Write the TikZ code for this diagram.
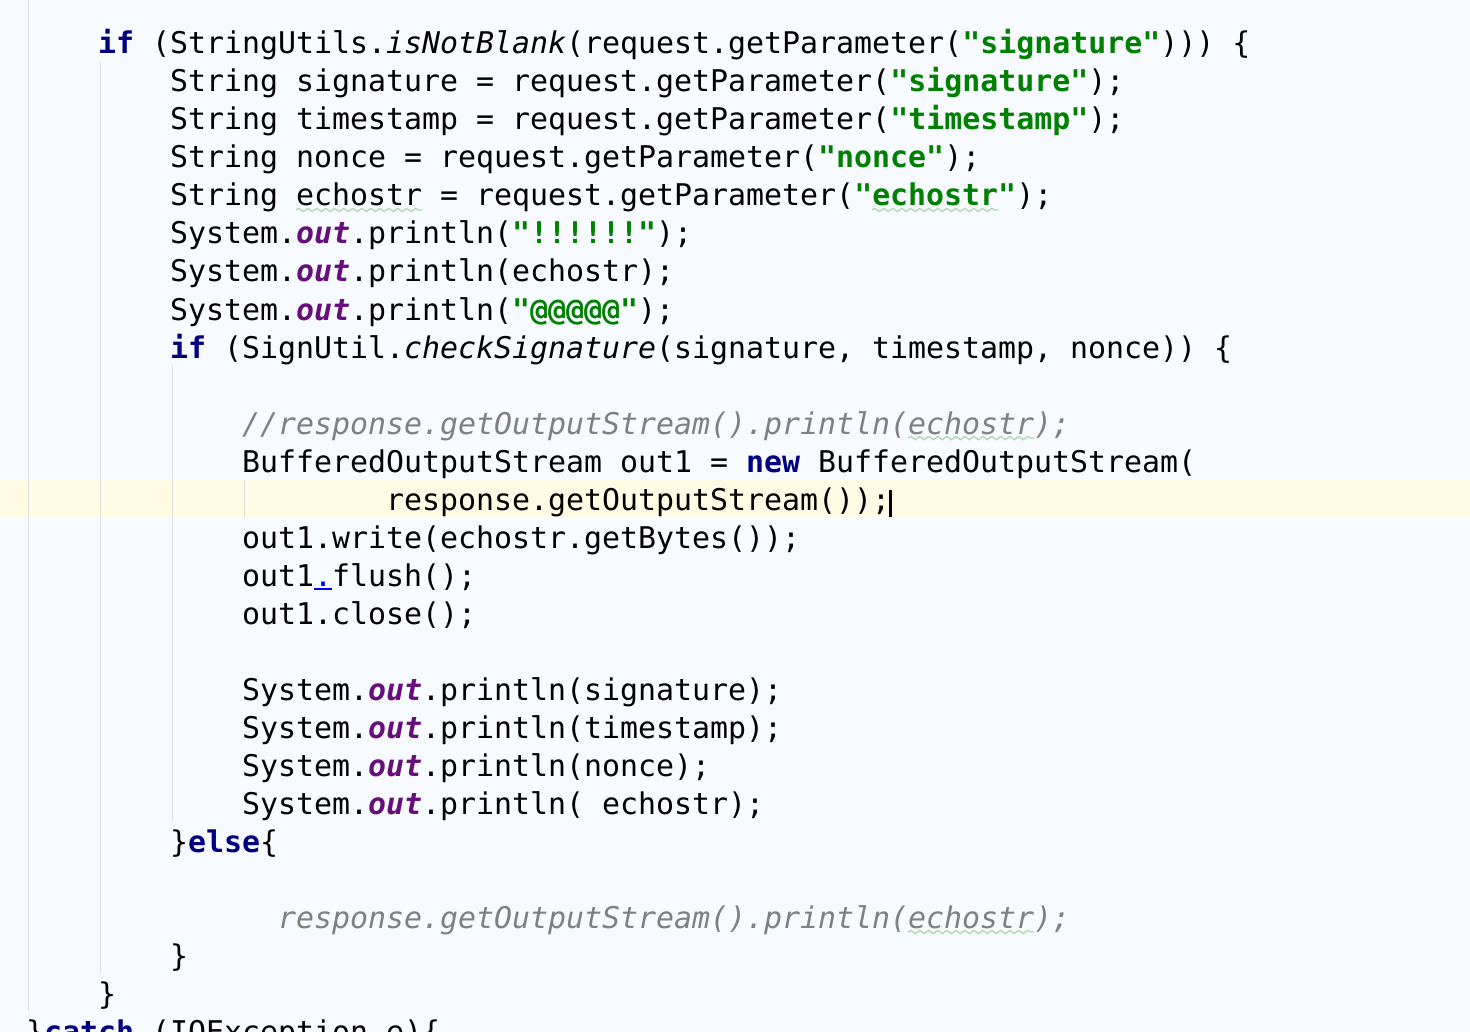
\documentclass[tikz,border=0pt]{standalone}
\usepackage{fontspec}
\setmonofont{DejaVu Sans Mono}
\usetikzlibrary{decorations.pathmorphing}
\definecolor{bgcol}{HTML}{F7FAFF}
\definecolor{curline}{HTML}{FFFAE3}
\definecolor{guide}{HTML}{E2E2E2}
\definecolor{kwcol}{HTML}{000080}
\definecolor{strcol}{HTML}{008000}
\definecolor{fldcol}{HTML}{660E7A}
\definecolor{cmtcol}{HTML}{808080}
\definecolor{wavecol}{HTML}{B2D6AE}
\newcommand{\jkw}[1]{\textcolor{kwcol}{\bfseries #1}}
\newcommand{\jstr}[1]{\textcolor{strcol}{\bfseries #1}}
\newcommand{\jout}{\textcolor{fldcol}{\bfseries\itshape out}}
\newcommand{\jit}[1]{{\itshape #1}}
\tikzset{
  code/.style={anchor=base west, inner sep=0pt, font=\ttfamily\fontsize{29.9}{38}\selectfont},
  cmt/.style={code, cmtcol, font=\ttfamily\itshape\fontsize{29.9}{38}\selectfont},
  squiggle/.style={wavecol, line width=1.3pt, decorate, decoration={snake, amplitude=1.6pt, segment length=9pt}},
  indent/.style={guide, line width=1pt}
}

\begin{document}
\begin{tikzpicture}[x=1pt,y=-1pt]
    \clip (0,0) rectangle (1470,1032);
    \fill[bgcol] (0,0) rectangle (1470,1032);
    \fill[curline] (0,480) rectangle (1470,518);

    \draw[indent] (28.5,0) -- (28.5,1011);
    \draw[indent] (100.5,62) -- (100.5,974);
    \draw[indent] (172.5,366) -- (172.5,822);
    \draw[indent] (244.5,480) -- (244.5,518);

%    lines of the listing, 18pt a column, 38pt a row
\node[code] (l0) at (98,54) {\jkw{if} (StringUtils.\jit{isNotBlank}(request.getParameter(\jstr{"signature"}))) \{};
\node[code] (l1) at (170,92) {String signature = request.getParameter(\jstr{"signature"});};
\node[code] (l2) at (170,130) {String timestamp = request.getParameter(\jstr{"timestamp"});};
\node[code] (l3) at (170,168) {String nonce = request.getParameter(\jstr{"nonce"});};
\node[code] (l4) at (170,206) {String echostr = request.getParameter(\jstr{"echostr"});};
\node[code] (l5) at (170,244) {System.\jout.println(\jstr{"!!!!!!"});};
\node[code] (l6) at (170,282) {System.\jout.println(echostr);};
\node[code] (l7) at (170,320) {System.\jout.println(\jstr{"@@@@@"});};
\node[code] (l8) at (170,358) {\jkw{if} (SignUtil.\jit{checkSignature}(signature, timestamp, nonce)) \{};

\node[cmt] (l10) at (242,434) {//response.getOutputStream().println(echostr);};
\node[code] (l11) at (242,472) {BufferedOutputStream out1 = \jkw{new} BufferedOutputStream(};
\node[code] (l12) at (386,510) {response.getOutputStream());};
\node[code] (l13) at (242,548) {out1.write(echostr.getBytes());};
\node[code] (l14) at (242,586) {out1\textcolor{blue}{.}flush();};
\node[code] (l15) at (242,624) {out1.close();};

\node[code] (l17) at (242,700) {System.\jout.println(signature);};
\node[code] (l18) at (242,738) {System.\jout.println(timestamp);};
\node[code] (l19) at (242,776) {System.\jout.println(nonce);};
\node[code] (l20) at (242,814) {System.\jout.println( echostr);};
\node[code] (l21) at (170,852) {\}\jkw{else}\{};

\node[cmt] (l23) at (278,928) {response.getOutputStream().println(echostr);};
\node[code] (l24) at (170,966) {\}};
\node[code] (l25) at (98,1004) {\}};
\node[code] (l26) at (26,1042) {\}\jkw{catch} (IOException e)\{};

%    warnings and caret
\draw[squiggle] (296,210) -- (422,210);
\draw[squiggle] (872,210) -- (998,210);
\draw[squiggle] (908,438) -- (1034,438);
\draw[squiggle] (908,932) -- (1034,932);
\draw[blue, line width=2pt] (314,589) -- (332,589);
\fill[black] (889,490) rectangle (892,517);

\end{tikzpicture}
\end{document}
